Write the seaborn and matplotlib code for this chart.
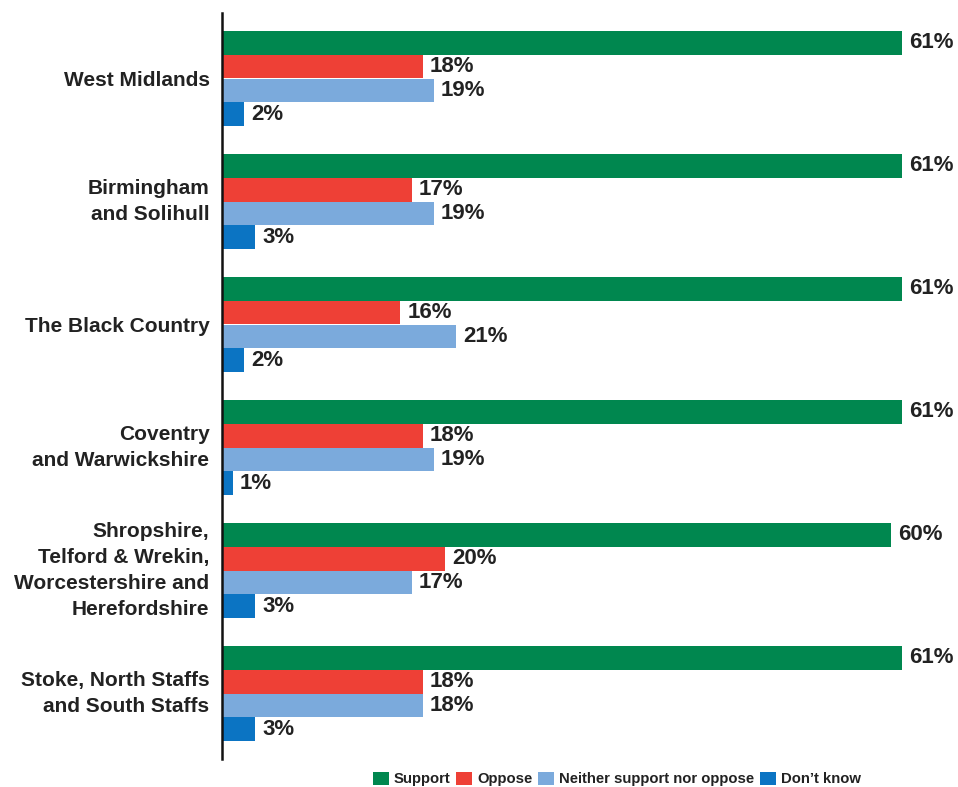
import matplotlib
matplotlib.use("Agg")
import matplotlib.pyplot as plt
import seaborn as sns
import pandas as pd
from matplotlib.patches import Patch

regions = [
    "West Midlands",
    "Birmingham\nand Solihull",
    "The Black Country",
    "Coventry\nand Warwickshire",
    "Shropshire,\nTelford & Wrekin,\nWorcestershire and\nHerefordshire",
    "Stoke, North Staffs\nand South Staffs",
]
responses = ["Support", "Oppose", "Neither support nor oppose", "Don\u2019t know"]
support = [61, 61, 61, 61, 60, 61]
oppose = [18, 17, 16, 18, 20, 18]
neither = [19, 19, 21, 19, 17, 18]
dont_know = [2, 3, 2, 1, 3, 3]
colors = ["#00874F", "#EE4036", "#7BAADC", "#0B74C3"]

series = [support, oppose, neither, dont_know]
rows = []
for resp, vals in zip(responses, series):
    for reg, v in zip(regions, vals):
        rows.append({"region": reg, "response": resp, "value": v})
df = pd.DataFrame(rows)

sns.set_style("white")
plt.rcParams["font.family"] = ["Liberation Sans", "DejaVu Sans"]

fig = plt.figure(figsize=(9.58, 7.87), dpi=100)
ax = fig.add_axes([222 / 958, 1 - 755 / 787, 725 / 958, 738 / 787])

sns.barplot(
    data=df, y="region", x="value", hue="response", orient="h",
    order=regions, hue_order=responses, palette=colors,
    width=0.78, saturation=1, linewidth=0, ax=ax, legend=False,
)

for cont in ax.containers:
    ax.bar_label(cont, fmt="%d%%", padding=5, fontsize=16,
                 fontweight="bold", color="#222222")

ax.set_xlim(0, 65)
ax.set_ylim(5.5, -0.5)
ax.set_xlabel("")
ax.set_ylabel("")
ax.set_xticks([])
ax.tick_params(axis="y", length=0, pad=9)
for lbl in ax.get_yticklabels():
    lbl.set_fontsize(15)
    lbl.set_fontweight("bold")
    lbl.set_color("#222222")
    lbl.set_multialignment("right")
    lbl.set_linespacing(1.45)
    if "\n" in lbl.get_text():
        lbl.set_verticalalignment("center")
for side in ["top", "right", "bottom"]:
    ax.spines[side].set_visible(False)
ax.spines["left"].set_color("#111111")
ax.spines["left"].set_linewidth(1.8)
ax.spines["left"].set_bounds(5.53, -0.53)

handles = [Patch(facecolor=c, edgecolor="none") for c in colors]
fig.legend(
    handles, responses, loc="center", bbox_to_anchor=(617 / 958, 1 - 779 / 787),
    ncol=4, frameon=False, handlelength=1.05, handleheight=1.05,
    handletextpad=0.35, columnspacing=0.4,
    prop={"weight": "bold", "size": 10.7},
)
for t in fig.legends[0].get_texts():
    t.set_color("#222222")

fig.savefig("out.png", dpi=100, facecolor="white")
